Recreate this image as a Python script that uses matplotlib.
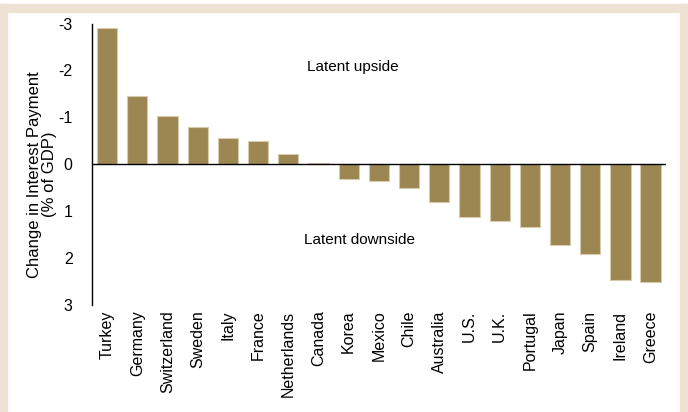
import numpy as np
import matplotlib.pyplot as plt
from matplotlib.patches import Rectangle

plt.rcParams["font.family"] = ["Liberation Sans", "DejaVu Sans"]

countries = ["Turkey", "Germany", "Switzerland", "Sweden", "Italy", "France",
             "Netherlands", "Canada", "Korea", "Mexico", "Chile", "Australia",
             "U.S.", "U.K.", "Portugal", "Japan", "Spain", "Ireland", "Greece"]
change = [-2.91, -1.46, -1.02, -0.79, -0.56, -0.50, -0.22, -0.03, 0.31, 0.35,
          0.51, 0.80, 1.12, 1.21, 1.33, 1.73, 1.91, 2.47, 2.52]
yticks = [-3, -2, -1, 0, 1, 2, 3]

W, H = 688, 412
fig = plt.figure(figsize=(W / 100, H / 100), dpi=100, facecolor="white")

# beige frame
frame = "#EEE3D2"
fig.patches.append(Rectangle((0, 1 - 12 / H), 1, 8 / H, transform=fig.transFigure,
                             color=frame, zorder=0))
fig.patches.append(Rectangle((0, 0), 7 / W, 1 - 4 / H, transform=fig.transFigure,
                             color=frame, zorder=0))
fig.patches.append(Rectangle((680 / W, 0), 8 / W, 1 - 4 / H, transform=fig.transFigure,
                             color=frame, zorder=0))

ax = fig.add_axes([92 / W, 1 - 305 / H, (665.7 - 92) / W, (305 - 23.6) / H])
ax.set_facecolor("none")

x = np.arange(len(countries))
ax.bar(x, change, width=0.67, color="#9C8753", edgecolor="#D6CBAA", linewidth=0.8)

ax.set_xlim(-0.5, len(countries) - 0.5)
ax.set_ylim(3, -3)
ax.set_yticks(yticks)
ax.set_yticklabels([str(v) for v in yticks])
ax.set_xticks(x)
ax.set_xticklabels(countries, rotation=90)
ax.tick_params(axis="both", length=0, labelsize=11.5)
ax.tick_params(axis="y", pad=14)
ax.tick_params(axis="x", pad=4)

for s in ["top", "right", "bottom"]:
    ax.spines[s].set_visible(False)
ax.spines["left"].set_linewidth(1)
ax.axhline(0, color="black", linewidth=1)

ax.set_ylabel("Change in Interest Payment\n(% of GDP)", fontsize=12, linespacing=1.0)
ax.yaxis.set_label_coords(-0.061, 0.465)

ax.text(8.15, -2.07, "Latent upside", ha="center", va="center", fontsize=11)
ax.text(8.35, 1.61, "Latent downside", ha="center", va="center", fontsize=11)

fig.savefig("out.png", dpi=100)
